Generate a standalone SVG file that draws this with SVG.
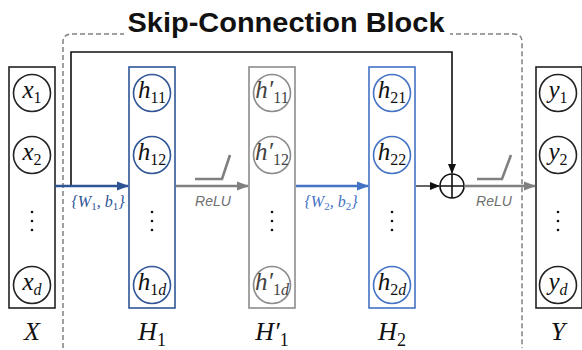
<svg xmlns="http://www.w3.org/2000/svg" width="582" height="350" viewBox="0 0 582 350">
<defs>
<style>
.title{font-family:"Liberation Sans",Arial,sans-serif;font-weight:bold;font-size:27px;fill:#111}
.m{font-family:"Liberation Serif","DejaVu Serif",serif;font-style:italic;font-size:25px;text-anchor:middle}
.m tspan.s{font-style:normal;font-size:16px}
.m tspan.si{font-style:italic;font-size:16px}
.lab{font-family:"Liberation Serif","DejaVu Serif",serif;font-style:italic;font-size:26px;text-anchor:middle;fill:#111}
.lab tspan.s{font-style:normal;font-size:18px}
.relu{font-family:"Liberation Sans",Arial,sans-serif;font-style:italic;font-size:14px;fill:#6f6f6f;text-anchor:middle}
.w{font-family:"Liberation Serif","DejaVu Serif",serif;font-style:italic;font-size:16px;text-anchor:middle}
.w tspan.s{font-style:normal;font-size:11px}
.box{fill:#fff;stroke-width:1.6}
.nc{fill:#fff;stroke-width:1.6}
.blk{stroke:#222}
.b1{stroke:#2f5597}
.gr{stroke:#8c8c8c}
.b2{stroke:#4472c4}
.dot{stroke:none}
</style>
<marker id="ak" markerWidth="10" markerHeight="10" refX="9" refY="5" orient="auto" markerUnits="userSpaceOnUse"><path d="M0,1 L10,5 L0,9 z" fill="#111"/></marker>
<marker id="ab1" markerWidth="12" markerHeight="10" refX="11" refY="5" orient="auto" markerUnits="userSpaceOnUse"><path d="M0,0.5 L12,5 L0,9.5 z" fill="#2f5597"/></marker>
<marker id="ab2" markerWidth="12" markerHeight="10" refX="11" refY="5" orient="auto" markerUnits="userSpaceOnUse"><path d="M0,0.5 L12,5 L0,9.5 z" fill="#4472c4"/></marker>
<marker id="ag" markerWidth="12" markerHeight="10" refX="11" refY="5" orient="auto" markerUnits="userSpaceOnUse"><path d="M0,0.5 L12,5 L0,9.5 z" fill="#808080"/></marker>
</defs>
<rect width="582" height="350" fill="#fff"/>

<g id="block">
<path d="M72,34 H514 Q522,34 522,42 V348 M63,348 V42 Q63,34 72,34" fill="none" stroke="#808080" stroke-width="1.5" stroke-dasharray="5,3"/>
<rect x="124" y="8" width="326" height="30" fill="#fff"/>
<text class="title" x="286" y="32" text-anchor="middle" textLength="317" lengthAdjust="spacingAndGlyphs">Skip-Connection Block</text>
</g>

<g id="X">
<rect class="box blk" x="9" y="67" width="46" height="241"/>
<circle class="nc blk" cx="32" cy="93" r="18.5"/>
<text class="m" x="32" y="98" fill="#111">x<tspan class="s" dy="5">1</tspan></text>
<circle class="nc blk" cx="32" cy="155" r="18.5"/>
<text class="m" x="32" y="160" fill="#111">x<tspan class="s" dy="5">2</tspan></text>
<g fill="#111"><circle class="dot" cx="32" cy="212" r="1.3"/><circle class="dot" cx="32" cy="221" r="1.3"/><circle class="dot" cx="32" cy="230" r="1.3"/></g>
<circle class="nc blk" cx="32" cy="285" r="18.5"/>
<text class="m" x="32" y="290" fill="#111">x<tspan class="si" dy="5">d</tspan></text>
<text class="lab" x="32" y="340">X</text>
</g>

<g id="H1">
<rect class="box b1" x="129" y="67" width="46" height="241"/>
<circle class="nc b1" cx="152" cy="93" r="18.5"/>
<text class="m" x="152" y="98" fill="#111">h<tspan class="s" dy="5">11</tspan></text>
<circle class="nc b1" cx="152" cy="155" r="18.5"/>
<text class="m" x="152" y="160" fill="#111">h<tspan class="s" dy="5">12</tspan></text>
<g fill="#111"><circle class="dot" cx="152" cy="212" r="1.3"/><circle class="dot" cx="152" cy="221" r="1.3"/><circle class="dot" cx="152" cy="230" r="1.3"/></g>
<circle class="nc b1" cx="152" cy="285" r="18.5"/>
<text class="m" x="152" y="290" fill="#111">h<tspan class="s" dy="5">1</tspan><tspan class="si">d</tspan></text>
<text class="lab" x="152" y="340">H<tspan class="s" dy="6">1</tspan></text>
</g>

<g id="H1p">
<rect class="box gr" x="249" y="67" width="46" height="241"/>
<circle class="nc gr" cx="272" cy="93" r="18.5"/>
<text class="m" x="272" y="98" fill="#444">h′<tspan class="s" dy="5">11</tspan></text>
<circle class="nc gr" cx="272" cy="155" r="18.5"/>
<text class="m" x="272" y="160" fill="#444">h′<tspan class="s" dy="5">12</tspan></text>
<g fill="#111"><circle class="dot" cx="272" cy="212" r="1.3"/><circle class="dot" cx="272" cy="221" r="1.3"/><circle class="dot" cx="272" cy="230" r="1.3"/></g>
<circle class="nc gr" cx="272" cy="285" r="18.5"/>
<text class="m" x="272" y="290" fill="#444">h′<tspan class="s" dy="5">1</tspan><tspan class="si">d</tspan></text>
<text class="lab" x="272" y="340">H′<tspan class="s" dy="6">1</tspan></text>
</g>

<g id="H2">
<rect class="box b2" x="369" y="67" width="46" height="241"/>
<circle class="nc b2" cx="392" cy="93" r="18.5"/>
<text class="m" x="392" y="98" fill="#111">h<tspan class="s" dy="5">21</tspan></text>
<circle class="nc b2" cx="392" cy="155" r="18.5"/>
<text class="m" x="392" y="160" fill="#111">h<tspan class="s" dy="5">22</tspan></text>
<g fill="#111"><circle class="dot" cx="392" cy="212" r="1.3"/><circle class="dot" cx="392" cy="221" r="1.3"/><circle class="dot" cx="392" cy="230" r="1.3"/></g>
<circle class="nc b2" cx="392" cy="285" r="18.5"/>
<text class="m" x="392" y="290" fill="#111">h<tspan class="s" dy="5">2</tspan><tspan class="si">d</tspan></text>
<text class="lab" x="392" y="340">H<tspan class="s" dy="6">2</tspan></text>
</g>

<g id="Y">
<rect class="box blk" x="536" y="67" width="46" height="241"/>
<circle class="nc blk" cx="558" cy="93" r="18.5"/>
<text class="m" x="558" y="98" fill="#111">y<tspan class="s" dy="5">1</tspan></text>
<circle class="nc blk" cx="558" cy="155" r="18.5"/>
<text class="m" x="558" y="160" fill="#111">y<tspan class="s" dy="5">2</tspan></text>
<g fill="#111"><circle class="dot" cx="558" cy="212" r="1.3"/><circle class="dot" cx="558" cy="221" r="1.3"/><circle class="dot" cx="558" cy="230" r="1.3"/></g>
<circle class="nc blk" cx="558" cy="285" r="18.5"/>
<text class="m" x="558" y="290" fill="#111">y<tspan class="si" dy="5">d</tspan></text>
<text class="lab" x="558" y="340">Y</text>
</g>

<g id="sum">
<circle cx="452" cy="186" r="12" fill="#fff" stroke="#111" stroke-width="1.6"/>
<path d="M440,186 H464 M452,174 V198" stroke="#111" stroke-width="1.6"/>
</g>

<g id="connectors" fill="none">
<path d="M55,186 H71 V52 H452 V173" stroke="#111" stroke-width="1.6" marker-end="url(#ak)"/>
<path d="M55,186 H128" stroke="#2f5597" stroke-width="2.6" marker-end="url(#ab1)"/>
<path d="M176,186 H248" stroke="#808080" stroke-width="2.6" marker-end="url(#ag)"/>
<path d="M296,186 H368" stroke="#4472c4" stroke-width="2.6" marker-end="url(#ab2)"/>
<path d="M416,186 H439" stroke="#111" stroke-width="1.3" marker-end="url(#ak)"/>
<path d="M464,186 H535" stroke="#808080" stroke-width="2.6" marker-end="url(#ag)"/>
<path d="M195,179 H222 L230,155" stroke="#808080" stroke-width="2.6"/>
<path d="M477,179 H502 L511,155" stroke="#808080" stroke-width="2.6"/>
<text class="relu" x="213" y="206">ReLU</text>
<text class="relu" x="494" y="206">ReLU</text>
<text class="w" x="98" y="207" fill="#2f5597">{W<tspan class="s" dy="3">1</tspan><tspan dy="-3">, b</tspan><tspan class="s" dy="3">1</tspan><tspan dy="-3">}</tspan></text>
<text class="w" x="331" y="207" fill="#4472c4">{W<tspan class="s" dy="3">2</tspan><tspan dy="-3">, b</tspan><tspan class="s" dy="3">2</tspan><tspan dy="-3">}</tspan></text>
</g>
</svg>
